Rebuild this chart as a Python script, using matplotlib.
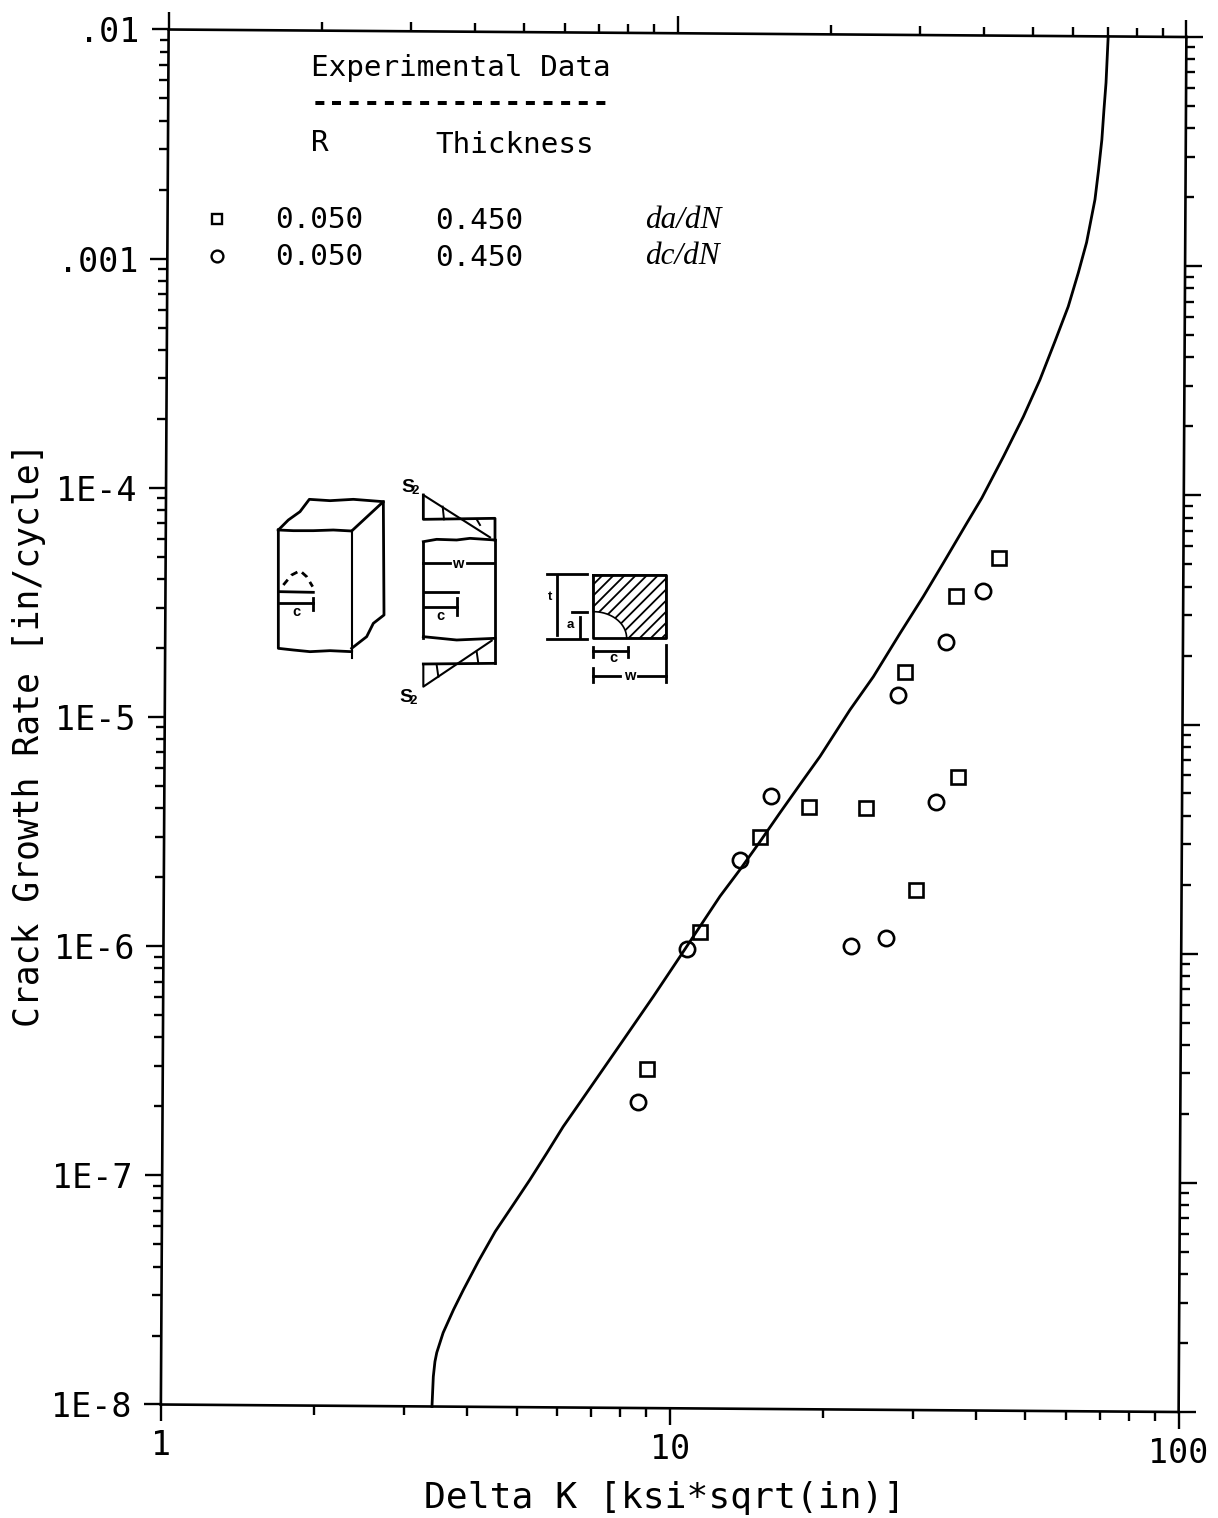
import matplotlib
matplotlib.use("Agg")
import matplotlib.pyplot as plt
import numpy as np
from matplotlib.axes import Axes
from matplotlib.lines import Line2D
from matplotlib.patches import Polygon
from matplotlib.ticker import LogLocator, NullFormatter
from matplotlib.transforms import Affine2D, IdentityTransform

# ---- data ----
curve_k = [3.41, 3.428, 3.452, 3.48, 3.58, 3.75, 3.92, 4.19, 4.52, 4.90, 5.28, 5.70, 6.13, 6.46,
           7.91, 9.19, 10.36, 11.33, 12.39, 13.55, 14.83, 16.22, 18.01, 19.41, 22.2, 24.66,
           27.8, 30.85, 33.75, 37.5, 40.1, 44.2, 48.3, 52.0, 55.6, 59.0, 61.7, 64.0, 66.4,
           67.45, 68.4, 69.0, 69.6, 70.2]
curve_rate = [1e-8, 1.35e-8, 1.57e-8, 1.72e-8, 2.10e-8, 2.65e-8, 3.24e-8, 4.31e-8, 5.83e-8, 7.64e-8,
              9.83e-8, 1.29e-7, 1.68e-7, 1.99e-7, 3.84e-7, 6.26e-7, 9.37e-7, 1.27e-6, 1.72e-6,
              2.25e-6, 2.99e-6, 4.00e-6, 5.58e-6, 7.06e-6, 1.13e-5, 1.58e-5, 2.45e-5, 3.55e-5,
              4.98e-5, 7.45e-5, 9.59e-5, 1.46e-4, 2.18e-4, 3.16e-4, 4.65e-4, 6.61e-4, 9.29e-4,
              1.26e-3, 1.94e-3, 2.62e-3, 3.54e-3, 4.79e-3, 6.28e-3, 1e-2]
dadn_k = [8.95, 11.33, 14.83, 18.49, 23.9, 28.5, 35.8, 43.4, 36.3, 30.1]
dadn_rate = [3.02e-7, 1.20e-6, 3.14e-6, 4.26e-6, 4.23e-6, 1.66e-5, 3.58e-5, 5.27e-5, 5.82e-6, 1.85e-6]
dcdn_k = [8.60, 10.7, 13.55, 15.6, 27.6, 34.2, 40.4, 32.9, 26.3, 22.4]
dcdn_rate = [2.17e-7, 1.01e-6, 2.49e-6, 4.74e-6, 1.32e-5, 2.26e-5, 3.78e-5, 4.52e-6, 1.15e-6, 1.05e-6]
x_ticks = [1, 10, 100]
x_labels = ["1", "10", "100"]
y_ticks = [1e-8, 1e-7, 1e-6, 1e-5, 1e-4, 1e-3, 1e-2]
y_labels = ["1E-8", "1E-7", "1E-6", "1E-5", "1E-4", ".001", ".01"]

W, H = 1218, 1518
MONO = "DejaVu Sans Mono"
CX, CY = 673.6, H - 721.0
SX, SY = 0.00564, -0.00737
# the scanned page is slightly skewed
SKEW = (Affine2D().translate(-CX, -CY)
        + Affine2D.from_values(1, SY, SX, 1, 0, 0)
        + Affine2D().translate(CX, CY))


class SkewedAxes(Axes):
    def _set_lim_and_transforms(self):
        super()._set_lim_and_transforms()
        self._xaxis_transform = self._xaxis_transform + SKEW
        self._yaxis_transform = self._yaxis_transform + SKEW
        self.transAxes = self.transAxes + SKEW
        self.transData = self.transScale + (self.transLimits + self.transAxes)


plt.rcParams["hatch.linewidth"] = 1.3
fig = plt.figure(figsize=(W / 100, H / 100), dpi=100, facecolor="white")
left, right, top, bottom = 164.75, 1182.5, 33.25, 1408.25
ax = fig.add_axes([left / W, 1 - bottom / H, (right - left) / W, (bottom - top) / H],
                  axes_class=SkewedAxes)
ax.set_xscale("log")
ax.set_yscale("log")
ax.set_xlim(1, 100)
ax.set_ylim(1e-8, 1e-2)
ax.patch.set_visible(False)
for s in ax.spines.values():
    s.set_linewidth(1.9)

ax.plot(curve_k, curve_rate, color="black", lw=2.0, clip_on=False, zorder=3, solid_joinstyle="round")
ax.plot(dadn_k, dadn_rate, ls="none", marker="s", ms=10.6, mfc="none", mec="black", mew=1.9, clip_on=False)
ax.plot(dcdn_k, dcdn_rate, ls="none", marker="o", ms=11, mfc="none", mec="black", mew=1.9, clip_on=False)

ax.set_xticks(x_ticks, x_labels)
ax.set_yticks(y_ticks, y_labels)
ax.xaxis.set_minor_locator(LogLocator(base=10, subs=range(2, 10), numticks=12))
ax.yaxis.set_minor_locator(LogLocator(base=10, subs=range(2, 10), numticks=12))
ax.xaxis.set_minor_formatter(NullFormatter())
ax.yaxis.set_minor_formatter(NullFormatter())
ax.tick_params(which="major", direction="out", length=12, width=1.7, top=True, right=True,
               labelsize=24, pad=6)
ax.tick_params(which="minor", direction="out", length=6.3, width=1.7, top=True, right=True)
ax.tick_params(axis="y", which="major", pad=9)
for lab in ax.get_xticklabels() + ax.get_yticklabels():
    lab.set_family(MONO)
ax.set_xlabel("Delta K [ksi*sqrt(in)]", family=MONO, fontsize=26.2, labelpad=8)
ax.set_ylabel("Crack Growth Rate [in/cycle]", family=MONO, fontsize=24.9, labelpad=4)
# axis titles are placed on the page, independent of the page skew
ax.xaxis.label.set_transform(IdentityTransform())
ax.xaxis.label.set_x(665)
ax.yaxis.label.set_transform(IdentityTransform())
ax.yaxis.label.set_y(H - 735)


def page(x, y, s, **kw):
    kw.setdefault("family", MONO)
    kw.setdefault("fontsize", 21.2)
    kw.setdefault("va", "center")
    fig.text(x / W, 1 - y / H, s, **kw)


page(311, 68, "Experimental Data")
page(311, 103, "-----------------", weight="bold")
page(311, 143, "R")
page(435, 145, "Thickness")
page(275, 220, "0.050")
page(435, 221, "0.450")
page(275, 257, "0.050")
page(435, 258, "0.450")
page(645, 221, "da/dN", family="Liberation Serif", style="italic", fontsize=22.5)
page(645, 257, "dc/dN", family="Liberation Serif", style="italic", fontsize=22.5)
PAGE = Affine2D().scale(1, -1).translate(0, H)
fig.add_artist(Line2D([217], [219], marker="s", ms=7.5, mfc="none", mec="black", mew=1.7, transform=PAGE))
fig.add_artist(Line2D([217], [256], marker="o", ms=8.5, mfc="none", mec="black", mew=1.7, transform=PAGE))

# ---- specimen sketch, drawn in sketch units ----
SK = Affine2D().scale(1 / 3, -1 / 3).translate(250, H - 460)


def sk(points, lw=2.0, **kw):
    xs, ys = zip(*points)
    fig.add_artist(Line2D(xs, ys, color="black", lw=lw, transform=SK, **kw))


def sktext(x, y, s, size=11):
    fig.text(250 + x / 3, H - (460 + y / 3), s, transform=None, family="Liberation Sans",
             weight="bold", fontsize=size, ha="center", va="center")


# block
sk([(85, 210), (85, 565), (130, 570), (180, 575), (240, 572), (305, 575)])
sk([(85, 210), (130, 212), (190, 212), (250, 210), (305, 213)])
sk([(305, 213), (305, 595)], lw=1.5)
sk([(85, 210), (115, 180), (150, 155), (178, 118), (240, 122), (310, 118), (400, 125)])
sk([(305, 213), (400, 125), (402, 465), (370, 490), (350, 530), (305, 565)])
sk([(100, 375), (125, 345), (150, 332), (170, 350), (188, 380)], ls=(0, (2.5, 2)))
sk([(90, 395), (190, 397)])
sk([(90, 428), (190, 428)])
sk([(190, 415), (190, 450)])
sktext(140, 455, "c", 10.5)
# middle panel
sktext(475, 82, "S", 14)
sktext(497, 92, "2", 9.5)
sk([(520, 105), (720, 232)], lw=1.5)
sk([(520, 105), (520, 178), (735, 175), (735, 240)])
sk([(578, 140), (582, 178)], lw=1.4)
sk([(680, 178), (690, 195)], lw=1.4)
sk([(520, 245), (520, 535)])
sk([(520, 245), (560, 238), (620, 240), (660, 235), (735, 240)])
sk([(735, 240), (735, 610)])
sk([(520, 530), (620, 540), (735, 535)])
sk([(520, 310), (600, 310)])
sk([(650, 310), (730, 310)])
sktext(623, 312, "w", 10.5)
sk([(525, 395), (625, 395)])
sk([(525, 440), (622, 440)])
sk([(622, 415), (622, 465)])
sktext(572, 468, "c", 10.5)
sk([(520, 612), (735, 610)])
sk([(520, 612), (520, 680), (725, 542)], lw=1.5)
sk([(560, 615), (565, 650)], lw=1.4)
sk([(680, 575), (685, 610)], lw=1.4)
sktext(468, 712, "S", 14)
sktext(490, 724, "2", 9.5)
# section
sk([(890, 343), (1010, 343)])
sk([(890, 537), (1010, 537)])
sk([(920, 345), (920, 525)])
sktext(900, 410, "t", 9.5)
sk([(965, 455), (1012, 455)])
sk([(990, 470), (990, 535)])
sktext(960, 495, "a", 9.5)
th = np.linspace(np.pi / 2, 0, 20)
arc = np.column_stack([1030 + 100 * np.cos(th), 535 - 80 * np.sin(th)])
shade = np.vstack([[(1030, 345)], arc, [(1130, 535), (1248, 535), (1248, 345)]])
fig.add_artist(Polygon(shade, closed=True, fill=False, hatch="///", ec="black", lw=1.2, transform=SK))
sk([(1030, 345), (1248, 345), (1248, 535), (1030, 535), (1030, 345)])
sk([(1030, 560), (1030, 590)])
sk([(1030, 572), (1135, 572)])
sk([(1135, 560), (1135, 590)])
sktext(1090, 595, "c", 10.5)
sk([(1030, 625), (1030, 665)])
sk([(1030, 648), (1110, 648)])
sktext(1140, 648, "w", 10.5)
sk([(1165, 648), (1248, 648)])
sk([(1248, 555), (1248, 665)])

fig.savefig("out.png", dpi=100, facecolor="white")
